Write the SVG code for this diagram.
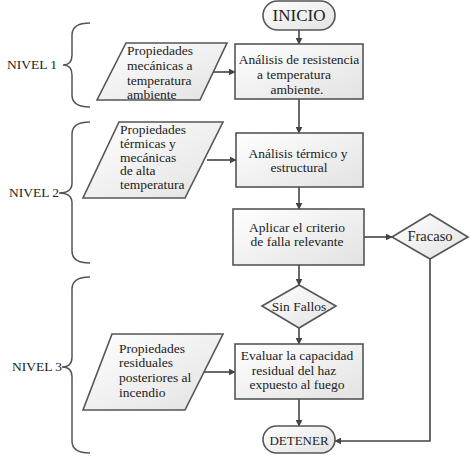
<svg xmlns="http://www.w3.org/2000/svg" width="475" height="463" viewBox="0 0 475 463">
<defs>
<linearGradient id="g" x1="0" y1="0" x2="1" y2="1">
<stop offset="0" stop-color="#ffffff"/>
<stop offset="1" stop-color="#e2e2e2"/>
</linearGradient>
<marker id="ah" viewBox="0 0 10 10" refX="9" refY="5" markerWidth="7" markerHeight="7" markerUnits="userSpaceOnUse" orient="auto">
<path d="M0,0 L10,5 L0,10 z" fill="#444"/>
</marker>
</defs>
<style>
.sh{fill:url(#g);stroke:#555;stroke-width:1.6}
text{font-family:'Liberation Serif','Times New Roman',Tinos,'DejaVu Serif',serif;font-size:13.5px;fill:#222}
.c{text-anchor:middle}
.ln{fill:none;stroke:#444;stroke-width:1.6}
.br{fill:none;stroke:#555;stroke-width:1.5}
</style>
<rect width="475" height="463" fill="#fff"/>
<g id="connectors">
<line class="ln" x1="299" y1="30" x2="299" y2="44" marker-end="url(#ah)"/>
<line class="ln" x1="299" y1="99" x2="299" y2="133" marker-end="url(#ah)"/>
<line class="ln" x1="299" y1="187" x2="299" y2="209" marker-end="url(#ah)"/>
<line class="ln" x1="364" y1="237" x2="392" y2="237" marker-end="url(#ah)"/>
<line class="ln" x1="299" y1="265" x2="299" y2="285" marker-end="url(#ah)"/>
<line class="ln" x1="299" y1="328" x2="299" y2="344" marker-end="url(#ah)"/>
<line class="ln" x1="299" y1="399" x2="299" y2="426" marker-end="url(#ah)"/>
<polyline class="ln" points="430,259 430,441 335,441" marker-end="url(#ah)"/>
<line class="ln" x1="213" y1="72" x2="235" y2="72" marker-end="url(#ah)" stroke-width="1.2"/>
<line class="ln" x1="207" y1="160" x2="236" y2="160" marker-end="url(#ah)" stroke-width="1.2"/>
<line class="ln" x1="203" y1="372" x2="235" y2="372" marker-end="url(#ah)" stroke-width="1.2"/>
</g>
<g id="inicio">
<rect class="sh" x="263" y="1" width="72" height="29" rx="14.5"/>
<text class="c" x="299" y="21" font-family="Liberation Serif, serif" style="font-size:17px">INICIO</text>
</g>
<g id="analisis-resistencia">
<rect class="sh" x="235" y="44" width="128" height="55"/>
<text class="c" x="299" y="64">Análisis de resistencia</text>
<text class="c" x="294" y="79">a temperatura</text>
<text class="c" x="297" y="94">ambiente.</text>
</g>
<g id="analisis-termico">
<rect class="sh" x="236" y="133" width="127" height="54"/>
<text class="c" x="298" y="158">Análisis térmico y</text>
<text class="c" x="299" y="172">estructural</text>
</g>
<g id="aplicar-criterio">
<rect class="sh" x="233" y="209" width="131" height="56"/>
<text class="c" x="297" y="232">Aplicar el criterio</text>
<text class="c" x="297" y="246">de falla relevante</text>
</g>
<g id="fracaso">
<polygon class="sh" points="392,237 430,214 468,237 430,259"/>
<text class="c" x="430" y="241" style="font-size:14.5px">Fracaso</text>
</g>
<g id="sin-fallos">
<polygon class="sh" points="262,306 299,285 336,306 299,328"/>
<text class="c" x="299" y="311">Sin Fallos</text>
</g>
<g id="evaluar">
<rect class="sh" x="235" y="344" width="128" height="55"/>
<text class="c" x="297" y="360">Evaluar la capacidad</text>
<text class="c" x="294" y="375">residual del haz</text>
<text class="c" x="297" y="389">expuesto al fuego</text>
</g>
<g id="detener">
<rect class="sh" x="263" y="426" width="72" height="27" rx="13.5"/>
<text class="c" x="299" y="445" style="font-size:13px">DETENER</text>
</g>
<g id="prop-mecanicas">
<polygon class="sh" points="126,43 227,43 200,100 97,100"/>
<text x="127" y="55">Propiedades</text>
<text x="127" y="70">mecánicas a</text>
<text x="127" y="84.5">temperatura</text>
<text x="127" y="99">ambiente</text>
</g>
<g id="prop-termicas">
<polygon class="sh" points="119,122 223,122 185,198 83,198"/>
<text x="120" y="134">Propiedades</text>
<text x="120" y="148">térmicas y</text>
<text x="120" y="161.5">mecánicas</text>
<text x="120" y="175">de alta</text>
<text x="120" y="189">temperatura</text>
</g>
<g id="prop-residuales">
<polygon class="sh" points="112,334 223,334 185,410 83,410"/>
<text x="119" y="352.5">Propiedades</text>
<text x="119" y="367">residuales</text>
<text x="119" y="382">posteriores al</text>
<text x="119" y="396.5">incendio</text>
</g>
<g id="nivel1">
<path class="br" d="M90,23 Q72,23 72,35 L72,55 Q72,65 63,65 Q72,65 72,75 L72,95 Q72,107 90,107"/>
<text x="7" y="69">NIVEL 1</text>
</g>
<g id="nivel2">
<path class="br" d="M90,122 Q72,122 72,134 L72,183 Q72,193 59,193 Q72,193 72,203 L72,251 Q72,263 90,263"/>
<text x="9" y="197">NIVEL 2</text>
</g>
<g id="nivel3">
<path class="br" d="M90,277 Q72,277 72,289 L72,357 Q72,367 62,367 Q72,367 72,377 L72,441 Q72,453 90,453"/>
<text x="12" y="371">NIVEL 3</text>
</g>
</svg>
